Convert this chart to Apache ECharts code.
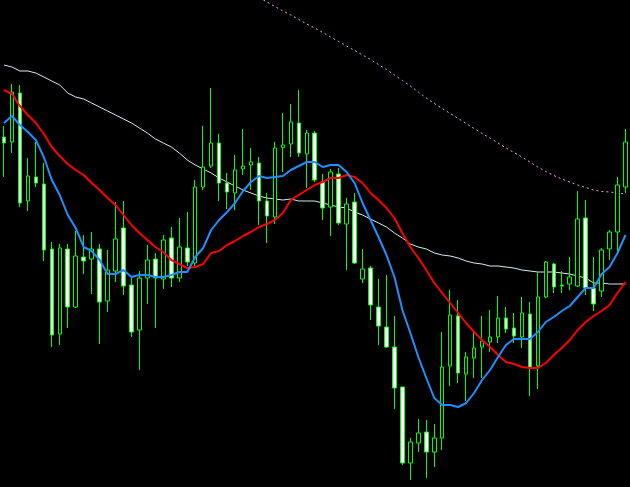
<!DOCTYPE html>
<html>
<head>
<meta charset="utf-8">
<script src="https://cdn.jsdelivr.net/npm/echarts@6/dist/echarts.min.js"></script>
<style>
html,body{margin:0;padding:0;background:#000;}
#chart{width:630px;height:487px;}
</style>
</head>
<body>
<div id="chart"></div>
<script>
// Price values (arbitrary units)
const openVals  = [350,345,394,286,310,303,238,153,238,180,230,228,238,186,216,259,202,157,209,228,208,249,209,239,224,300,321,344,304,294,318,322,324,286,270,339.5,343,364,333,354,305,280,313,263,285,208,219,180,160,140,100,24,44,55,35,49,121,171,113,129,140,145,150,169,159,150,173,121,190,223,202,203,201,269,199,196,238,255,300];
const closeVals = [344,395,284,311,304,237,152,239,180,231,226,238,185,217,248,201,155,209,227,209,247,209,240,225,300,320,344,304,295,317,321,325,286,271,339,342,365,334,354,307,279,315,264,283,224,218,182,161,140,99,24,45,54,35,49,120,172,114,130,139,146,150,169,158,151,174,120,190,225,200,201,210,268,199,183,237,255,302,345];
const highVals  = [361,403,402,329,345,324,245,243,243,256,252,255,243,237,285,286,211,216,242,234,252,260,269,275,307,361,399,353,314,332,358,339,330,294,345,374,383,397,357,356,313,318,319,289,294,238,221,208,212,171,100,49,68,67,63,155,197,187,135,157,171,177,191,180,174,190,185,215,226,224,216,230,296,287,230,239,257,310,358];
const lowVals   = [310,334,280,276,300,226,140,142,159,179,213,193,143,175,205,192,150,117,183,159,198,200,205,221,221,297,319,286,278,277,312,297,262,244,263,315,330,330,299,305,267,251,262,217,223,204,167,142,139,78,22,7,35,9,20,37,101,104,86,109,109,135,144,154,144,139,91,98,189,194,194,197,200,192,176,190,227,233,294];

// Moving-average lines
const blueLine  = [364,371,362,355,347,330,307,292,272,259,240,236,227,213,213,217,210,212,212,210,210,212,215,215,230,239,257,267,275,284,296,305,311,309,310,311,317,321,325,325,320,322,322,315,304,284,267,250,232,210,177,154,130,109,89,82,82,80,84,94,107,117,130,142,148,148,148,155,165,170,176,181,190,199,199,213,220,234,252];
const redLine   = [397,393,381,372,364,353,340,331,323,317,312,304,297,289,282,272,262,254,247,240,235,227,223,219,220,223,234,236,242,246,251,255,260,263,267,274,287,292,297,302,305,309,309,312,310,304,294,287,279,269,254,240,229,217,204,194,184,174,164,155,147,140,132,125,123,120,119,119,124,132,139,147,157,165,171,176,182,194,205];
const whiteLine = [422,420,416,416,414,410,406,402,394,390,388,384,380,376,372,368,364,359,354,348,344,340,334,327,322,318,314,309,305,301,297,294,291,289,288,287,288,286,286,286,284,282,280,279,275,272,268,264,260,254,249,243,240,238,234,232,231,229,226,224,223,221,221,220,219,217,216,215,215,215,214,213,211,209,204,204,203,203,203];
const pinkLine  = [null,null,null,null,null,null,null,null,null,null,null,null,null,null,null,null,null,null,null,null,null,null,null,null,null,null,null,null,null,null,null,null,489.5,485,480.5,476,472,467.5,463,459,454.5,450,445.5,441,436.5,432,427.5,422.5,417.5,412,406.5,401,395,389,383.5,378.5,373.5,368.5,363.5,358.5,353.5,349,344,339,334.5,330,325,320,315.5,311.5,308,305,302,299.5,297,295.5,295,294,293];

const categories = openVals.map((_, i) => 'C' + (i + 1));
const ohlc = openVals.map((o, i) => [o, closeVals[i], lowVals[i], highVals[i]]);

const chart = echarts.init(document.getElementById('chart'), null, {renderer: 'canvas'});
chart.setOption({
  backgroundColor: '#000000',
  animation: false,
  grid: {left: -2.5, width: 632, top: 0, height: 487},
  xAxis: {type: 'category', data: categories, show: false, boundaryGap: true},
  yAxis: {type: 'value', min: 0, max: 487, show: false, splitLine: {show: false}},
  series: [
    {
      type: 'line', data: pinkLine, showSymbol: false, clip: true, z: 1,
      lineStyle: {color: '#e6a8e6', width: 1, type: [2, 3]}
    },
    {
      type: 'line', data: whiteLine, showSymbol: false, z: 2,
      lineStyle: {color: '#d8ecf4', width: 1}
    },
    {
      type: 'candlestick', data: ohlc, barWidth: 4, z: 3,
      itemStyle: {
        color: '#000000', color0: '#ffffff',
        borderColor: '#00ff00', borderColor0: '#00ff00', borderColorDoji: '#00ff00',
        borderWidth: 1
      }
    },
    {
      type: 'line', data: redLine, showSymbol: false, z: 4,
      lineStyle: {color: '#ff0000', width: 2}
    },
    {
      type: 'line', data: blueLine, showSymbol: false, z: 5,
      lineStyle: {color: '#1e90ff', width: 2}
    }
  ]
});
</script>
</body>
</html>
